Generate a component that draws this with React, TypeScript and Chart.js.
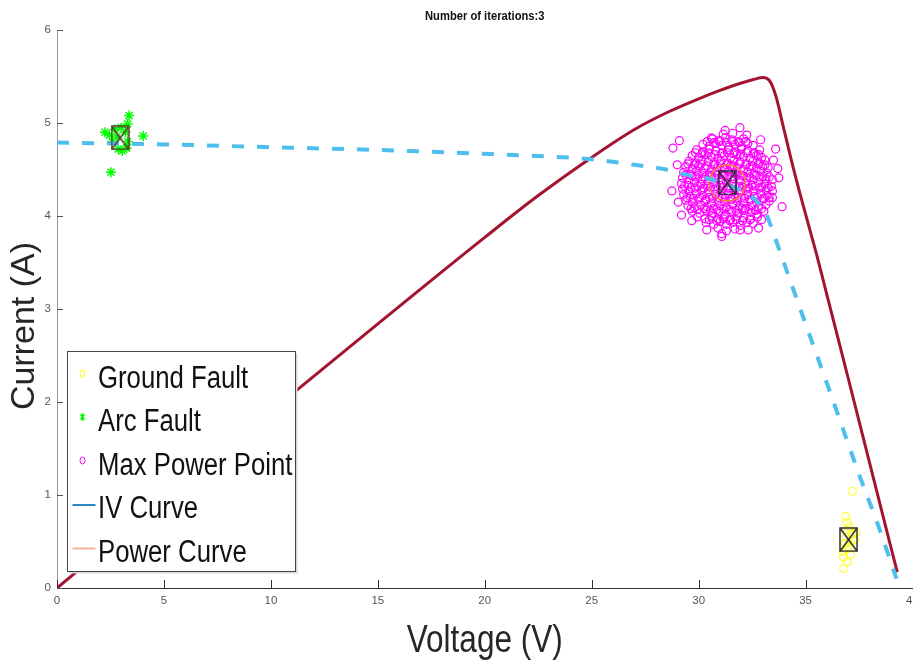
import { useEffect, useRef } from "react";
import { Chart, registerables } from "chart.js";

Chart.register(...registerables);

const chartTitle = "Number of iterations:3";
const xTitle = "Voltage (V)";
const yTitle = "Current (A)";
const legendLabels = ["Ground Fault", "Arc Fault", "Max Power Point", "IV Curve", "Power Curve"];

const xMin = 0;
const xMax = 40;
const xStep = 5;
const yMin = 0;
const yMax = 6;
const yStep = 1;

// IV curve (dashed)
const ivVoltage = [0, 5, 10, 15, 18.7, 22, 25, 27, 28.5, 29.5, 30.5, 31.5, 32.2, 32.8, 33.1, 33.4, 33.6, 35, 36, 37.6, 38.4, 39.25];
const ivCurrent = [4.79, 4.77, 4.74, 4.71, 4.68, 4.65, 4.61, 4.55, 4.5, 4.44, 4.4, 4.32, 4.25, 4.14, 4.05, 3.88, 3.75, 2.84, 2.2, 1.16, 0.67, 0.1];

// Power curve (scaled)
const powerVoltage = [0, 5, 10, 15, 20, 22.5, 25, 27, 28.5, 30, 31, 32, 32.6, 33.0, 33.3, 33.6, 34.0, 34.5, 35.0, 35.5, 36, 37, 38, 39, 39.29];
const powerValue = [0, 0.95, 1.9, 2.84, 3.77, 4.22, 4.63, 4.93, 5.11, 5.26, 5.35, 5.43, 5.47, 5.49, 5.46, 5.3, 4.92, 4.45, 4.02, 3.6, 3.15, 2.25, 1.34, 0.43, 0.17];

// Ground fault samples (V, A)
const groundFault: [number, number][] = [
  [37.19, 1.04], [36.88, 0.77], [36.95, 0.7], [37.05, 0.66], [37.37, 0.6], [37.3, 0.52],
  [36.9, 0.55], [36.85, 0.48], [37.03, 0.44], [36.75, 0.39], [36.78, 0.33], [36.78, 0.21],
  [37.1, 0.36], [36.95, 0.28], [37.2, 0.58], [36.98, 0.62], [37.12, 0.5], [36.92, 0.42],
];

// Arc fault samples (V, A)
const arcFault: [number, number][] = [
  [3.37, 5.08], [3.3, 4.99], [2.24, 4.9], [2.45, 4.87], [2.7, 4.93], [3.0, 4.95], [3.2, 4.9],
  [4.03, 4.86], [2.86, 4.72], [3.05, 4.7], [3.25, 4.73], [2.6, 4.8], [3.3, 4.8], [2.8, 4.85], [2.52, 4.47],
];

// Max power point samples (V, A)
const maxPowerPoints: [number, number][] = [
  [30.9, 3.87], [31.3, 3.84], [31.7, 3.86],
  [30.35, 3.93], [30.7, 3.91], [31.0, 3.94], [31.3, 3.91], [31.6, 3.93], [31.95, 3.9], [32.25, 3.93], [32.55, 3.92],
  [30.5, 3.96], [30.85, 3.95], [31.15, 3.97], [31.45, 3.95], [31.75, 3.96], [32.05, 3.95], [32.4, 3.96],
  [29.95, 3.99], [30.3, 3.97], [30.6, 4.0], [30.9, 3.97], [31.2, 3.99], [31.5, 3.96], [31.8, 4.0], [32.1, 3.98], [32.45, 3.97], [32.75, 3.99],
  [29.7, 4.05], [30.05, 4.03], [30.35, 4.06], [30.65, 4.03], [30.95, 4.05], [31.25, 4.02], [31.55, 4.05], [31.85, 4.03], [32.15, 4.06], [32.45, 4.04], [32.75, 4.02], [33.05, 4.05],
  [29.65, 4.08], [29.95, 4.07], [30.25, 4.08], [30.55, 4.06], [30.85, 4.07], [31.15, 4.08], [31.45, 4.07], [31.75, 4.06], [32.05, 4.08], [32.35, 4.07], [32.65, 4.06], [32.95, 4.08],
  [29.5, 4.11], [29.8, 4.09], [30.1, 4.12], [30.4, 4.1], [30.7, 4.08], [31.0, 4.11], [31.3, 4.09], [31.6, 4.12], [31.9, 4.1], [32.2, 4.08], [32.5, 4.11], [32.8, 4.09], [33.15, 4.12],
  [29.4, 4.17], [29.7, 4.15], [30.0, 4.18], [30.3, 4.16], [30.6, 4.14], [30.9, 4.17], [31.2, 4.15], [31.5, 4.18], [31.8, 4.16], [32.1, 4.14], [32.4, 4.17], [32.7, 4.15], [33.0, 4.18], [33.3, 4.16],
  [29.45, 4.2], [29.75, 4.19], [30.05, 4.2], [30.35, 4.18], [30.65, 4.19], [30.95, 4.2], [31.25, 4.19], [31.55, 4.18], [31.85, 4.2], [32.15, 4.19], [32.45, 4.18], [32.75, 4.2], [33.05, 4.19], [33.3, 4.2],
  [29.3, 4.23], [29.6, 4.21], [29.9, 4.24], [30.2, 4.22], [30.5, 4.2], [30.8, 4.23], [31.1, 4.21], [31.4, 4.24], [31.7, 4.22], [32.0, 4.2], [32.3, 4.23], [32.6, 4.21], [32.9, 4.24], [33.2, 4.22], [33.45, 4.2],
  [29.25, 4.29], [29.55, 4.27], [29.85, 4.3], [30.15, 4.28], [30.45, 4.26], [30.75, 4.29], [31.05, 4.27], [31.35, 4.3], [31.65, 4.28], [31.95, 4.26], [32.25, 4.29], [32.55, 4.27], [32.85, 4.3], [33.15, 4.28], [33.45, 4.27],
  [29.35, 4.32], [29.65, 4.31], [29.95, 4.32], [30.25, 4.3], [30.55, 4.31], [30.85, 4.32], [31.15, 4.31], [31.45, 4.3], [31.75, 4.32], [32.05, 4.31], [32.35, 4.3], [32.65, 4.32], [32.95, 4.31], [33.25, 4.3],
  [29.2, 4.35], [29.5, 4.33], [29.8, 4.36], [30.1, 4.34], [30.4, 4.32], [30.7, 4.35], [31.0, 4.33], [31.3, 4.36], [31.6, 4.34], [31.9, 4.32], [32.2, 4.35], [32.5, 4.33], [32.8, 4.36], [33.1, 4.34], [33.4, 4.32],
  [29.25, 4.41], [29.55, 4.39], [29.85, 4.42], [30.15, 4.4], [30.45, 4.38], [30.75, 4.41], [31.05, 4.39], [31.35, 4.42], [31.65, 4.4], [31.95, 4.38], [32.25, 4.41], [32.55, 4.39], [32.85, 4.42], [33.15, 4.4], [33.45, 4.39],
  [29.4, 4.44], [29.7, 4.43], [30.0, 4.44], [30.3, 4.42], [30.6, 4.43], [30.9, 4.44], [31.2, 4.43], [31.5, 4.42], [31.8, 4.44], [32.1, 4.43], [32.4, 4.42], [32.7, 4.44], [33.0, 4.43], [33.3, 4.42],
  [29.3, 4.47], [29.6, 4.45], [29.9, 4.48], [30.2, 4.46], [30.5, 4.44], [30.8, 4.47], [31.1, 4.45], [31.4, 4.48], [31.7, 4.46], [32.0, 4.44], [32.3, 4.47], [32.6, 4.45], [32.9, 4.48], [33.2, 4.46],
  [29.4, 4.53], [29.7, 4.51], [30.0, 4.54], [30.3, 4.52], [30.6, 4.5], [30.9, 4.53], [31.2, 4.51], [31.5, 4.54], [31.8, 4.52], [32.1, 4.5], [32.4, 4.53], [32.7, 4.51], [33.0, 4.54], [33.25, 4.52],
  [29.5, 4.56], [29.8, 4.55], [30.1, 4.56], [30.4, 4.54], [30.7, 4.55], [31.0, 4.56], [31.3, 4.55], [31.6, 4.54], [31.9, 4.56], [32.2, 4.55], [32.5, 4.54], [32.8, 4.56], [33.1, 4.55],
  [29.55, 4.59], [29.85, 4.57], [30.15, 4.6], [30.45, 4.58], [30.75, 4.56], [31.05, 4.59], [31.35, 4.57], [31.65, 4.6], [31.95, 4.58], [32.25, 4.56], [32.55, 4.59], [32.85, 4.57], [33.1, 4.6],
  [29.7, 4.65], [30.0, 4.63], [30.3, 4.66], [30.6, 4.64], [30.9, 4.62], [31.2, 4.65], [31.5, 4.63], [31.8, 4.66], [32.1, 4.64], [32.4, 4.62], [32.7, 4.65], [32.95, 4.63],
  [29.85, 4.68], [30.15, 4.67], [30.45, 4.68], [30.75, 4.66], [31.05, 4.67], [31.35, 4.68], [31.65, 4.67], [31.95, 4.66], [32.25, 4.68], [32.55, 4.67], [32.8, 4.66],
  [29.9, 4.71], [30.2, 4.69], [30.5, 4.72], [30.8, 4.7], [31.1, 4.68], [31.4, 4.71], [31.7, 4.69], [32.0, 4.72], [32.3, 4.7], [32.6, 4.68], [32.85, 4.71],
  [30.2, 4.77], [30.5, 4.75], [30.8, 4.78], [31.1, 4.76], [31.4, 4.74], [31.7, 4.77], [32.0, 4.75], [32.3, 4.78], [32.55, 4.76],
  [30.4, 4.8], [30.7, 4.79], [31.0, 4.8], [31.3, 4.79], [31.6, 4.8], [31.9, 4.79], [32.2, 4.8],
  [30.65, 4.83], [30.95, 4.81], [31.25, 4.84], [31.55, 4.82], [31.85, 4.8], [32.1, 4.83],
  [31.15, 4.88], [31.6, 4.89],
  [31.93, 4.95], [32.25, 4.87], [32.9, 4.82], [28.8, 4.73], [29.1, 4.81], [28.75, 4.27], [33.5, 4.6], [33.7, 4.51],
  [33.75, 4.41], [33.9, 4.1], [32.94, 3.96], [32.32, 3.85], [31.94, 3.85], [31.08, 3.81], [30.38, 3.85], [29.68, 3.95],
  [29.2, 4.01], [30.6, 4.84], [31.24, 4.92], [32.8, 3.87], [31.08, 3.78], [33.6, 4.72], [29.0, 4.55], [29.05, 4.15],
];

// Cluster centroids: arc fault, max power point, ground fault
const centroids: [number, number][] = [[2.95, 4.84], [31.34, 4.355], [37.01, 0.52]];
const mppCentroid: [number, number] = [31.34, 4.355];

const SANS = "'Liberation Sans', Arial, sans-serif";
const NARROW_SCALE = 0.83;

function toPoints(xs: number[], ys: number[]) {
  return xs.map((v, i) => ({ x: v, y: ys[i] }));
}
function pairPoints(p: [number, number][]) {
  return p.map(([x, y]) => ({ x, y }));
}

function makeBox(color: string) {
  const c = document.createElement("canvas");
  c.width = 19;
  c.height = 25;
  const g = c.getContext("2d")!;
  g.strokeStyle = color;
  g.lineWidth = 1.4;
  g.strokeRect(1, 1, 17, 23);
  g.beginPath();
  g.moveTo(1, 1);
  g.lineTo(18, 24);
  g.moveTo(18, 1);
  g.lineTo(1, 24);
  g.stroke();
  return c;
}

function narrowText(ctx: CanvasRenderingContext2D, text: string, x: number, y: number, font: string, align: CanvasTextAlign, color: string) {
  ctx.save();
  ctx.translate(x, y);
  ctx.scale(NARROW_SCALE, 1);
  ctx.font = font;
  ctx.textAlign = align;
  ctx.textBaseline = "alphabetic";
  ctx.fillStyle = color;
  ctx.fillText(text, 0, 0);
  ctx.restore();
}

const decorPlugin = {
  id: "decor",
  afterDraw(chart: any) {
    const { ctx, chartArea: a, scales } = chart;
    const x = scales.x;
    const y = scales.y;
    ctx.save();
    // inward tick marks
    ctx.lineWidth = 1;
    ctx.strokeStyle = "#333";
    x.ticks.forEach((t: any) => {
      const px = Math.round(x.getPixelForValue(t.value)) + 0.5;
      ctx.beginPath();
      ctx.moveTo(px, a.bottom);
      ctx.lineTo(px, a.bottom - 8);
      ctx.stroke();
    });
    ctx.strokeStyle = "#555";
    y.ticks.forEach((t: any) => {
      const py = Math.round(y.getPixelForValue(t.value)) + 0.5;
      ctx.beginPath();
      ctx.moveTo(a.left, py);
      ctx.lineTo(a.left + 6, py);
      ctx.stroke();
    });

    // chart title
    const cx = (a.left + a.right) / 2;
    narrowText(ctx, chartTitle, cx, 20, `bold 13.5px ${SANS}`, "center", "#111");

    // x axis title
    narrowText(ctx, xTitle, cx, 652, `38px ${SANS}`, "center", "#262626");

    // y axis title
    ctx.save();
    ctx.translate(25, (a.top + a.bottom) / 2 + 17);
    ctx.rotate(-Math.PI / 2);
    ctx.font = `34px ${SANS}`;
    ctx.fillStyle = "#262626";
    ctx.textAlign = "center";
    ctx.textBaseline = "middle";
    ctx.fillText(yTitle, 0, 0);
    ctx.restore();

    // legend
    const bx = a.left + 10.5;
    const by = 351.5;
    const bw = 228;
    const bh = 220;
    ctx.fillStyle = "#d8d8d8";
    ctx.fillRect(bx + 2, by + bh, bw, 2);
    ctx.fillRect(bx + bw, by + 2, 2, bh);
    ctx.fillStyle = "#ffffff";
    ctx.fillRect(bx, by, bw, bh);
    ctx.strokeStyle = "#444";
    ctx.lineWidth = 1;
    ctx.strokeRect(bx, by, bw, bh);

    const rowGap = 43.5;
    const firstBase = by + 36;
    const mx = bx + 15;
    legendLabels.forEach((label, i) => {
      const base = firstBase + i * rowGap;
      narrowText(ctx, label, bx + 30.5, base, `31px ${SANS}`, "left", "#111");
      const my = base - 14;
      if (i === 0 || i === 2) {
        ctx.strokeStyle = i === 0 ? "#FFFF00" : "#FF00FF";
        ctx.lineWidth = 1;
        ctx.beginPath();
        ctx.ellipse(mx, my, 2.5, 3.5, 0, 0, Math.PI * 2);
        ctx.stroke();
      } else if (i === 1) {
        ctx.strokeStyle = "#00FF00";
        ctx.lineWidth = 1.5;
        ctx.beginPath();
        ctx.moveTo(mx, my - 4);
        ctx.lineTo(mx, my + 4);
        ctx.moveTo(mx - 2, my - 2.5);
        ctx.lineTo(mx + 2, my + 2.5);
        ctx.moveTo(mx + 2, my - 2.5);
        ctx.lineTo(mx - 2, my + 2.5);
        ctx.stroke();
      } else {
        ctx.strokeStyle = i === 3 ? "#2B86C8" : "#F5B49A";
        ctx.lineWidth = 2;
        ctx.beginPath();
        ctx.moveTo(bx + 5, my + 1);
        ctx.lineTo(bx + 28, my + 1);
        ctx.stroke();
      }
    });
    ctx.restore();
  },
};

export default function App() {
  const ref = useRef<HTMLCanvasElement | null>(null);

  useEffect(() => {
    if (!ref.current) return;
    const darkBox = makeBox("#222222");
    const arcBox = makeBox("#5a3328");
    const chart = new Chart(ref.current, {
      type: "scatter",
      data: {
        datasets: [
          {
            label: "Centroids",
            data: pairPoints(centroids),
            pointStyle: [arcBox, darkBox, darkBox] as any,
            pointRadius: 10,
            order: 0,
          },
          {
            label: "IV Curve",
            data: toPoints(ivVoltage, ivCurrent),
            showLine: true,
            pointRadius: 0,
            borderColor: "#4DBEEE",
            borderWidth: 4,
            borderDash: [12, 13],
            cubicInterpolationMode: "monotone",
            order: 1,
          },
          {
            label: "MPP ring",
            data: [{ x: mppCentroid[0], y: mppCentroid[1] }],
            pointStyle: "circle",
            pointRadius: 18,
            borderColor: "#F08040",
            backgroundColor: "rgba(0,0,0,0)",
            borderWidth: 1.5,
            order: 2,
          },
          {
            label: "Arc Fault",
            data: pairPoints(arcFault),
            pointStyle: "star",
            pointRadius: 5,
            borderColor: "#00FF00",
            backgroundColor: "#00FF00",
            borderWidth: 1.5,
            order: 3,
          },
          {
            label: "Ground Fault",
            data: pairPoints(groundFault),
            pointStyle: "circle",
            pointRadius: 4,
            borderColor: "#FFFF00",
            backgroundColor: "rgba(0,0,0,0)",
            borderWidth: 1,
            order: 4,
          },
          {
            label: "Max Power Point",
            data: pairPoints(maxPowerPoints),
            pointStyle: "circle",
            pointRadius: 4,
            borderColor: "#FF00FF",
            backgroundColor: "rgba(0,0,0,0)",
            borderWidth: 1.2,
            order: 5,
          },
          {
            label: "Power Curve",
            data: toPoints(powerVoltage, powerValue),
            showLine: true,
            pointRadius: 0,
            borderColor: "#A2142F",
            borderWidth: 3,
            cubicInterpolationMode: "monotone",
            order: 6,
          },
        ],
      },
      options: {
        responsive: false,
        animation: false,
        events: [],
        layout: { padding: { left: 0, right: 7, top: 30, bottom: 0 } },
        plugins: {
          legend: { display: false },
          tooltip: { enabled: false },
          title: { display: false },
        },
        scales: {
          x: {
            type: "linear",
            min: xMin,
            max: xMax,
            ticks: {
              stepSize: xStep,
              color: "#555",
              font: { family: SANS, size: 11.5 },
              padding: 6,
              maxRotation: 0,
            },
            grid: { display: false, drawTicks: false },
            border: { display: true, color: "#333", width: 1 },
            title: { display: false, text: xTitle },
            afterFit: (s: any) => {
              s.height = 77;
            },
          },
          y: {
            type: "linear",
            min: yMin,
            max: yMax,
            ticks: {
              stepSize: yStep,
              color: "#555",
              font: { family: SANS, size: 11.5 },
              padding: 6,
            },
            grid: { display: false, drawTicks: false },
            border: { display: true, color: "#999", width: 1 },
            title: { display: false, text: yTitle },
            afterFit: (s: any) => {
              s.width = 57;
            },
          },
        },
      },
      plugins: [decorPlugin],
    } as any);
    return () => chart.destroy();
  }, []);

  return (
    <div style={{ position: "fixed", left: 0, top: 0, width: 913, height: 665, overflow: "hidden", background: "#fff" }}>
      <canvas ref={ref} width={932} height={665} style={{ display: "block" }} />
    </div>
  );
}
